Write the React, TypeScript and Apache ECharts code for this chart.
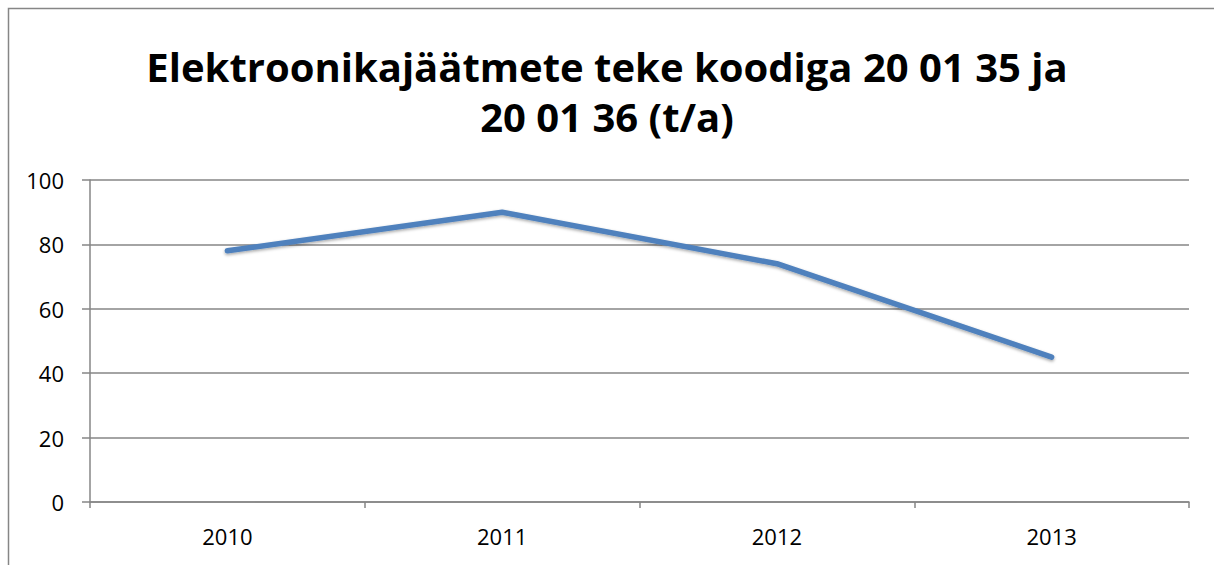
import React, { useEffect, useRef } from "react";
import * as echarts from "echarts";

const categories = ["2010", "2011", "2012", "2013"];
const values = [78, 90, 74, 45];
const titleLines = ["Elektroonikajäätmete teke koodiga 20 01 35 ja", "20 01 36 (t/a)"];

export default function App() {
  const ref = useRef<HTMLDivElement>(null);
  useEffect(() => {
    if (!ref.current) return;
    const chart = echarts.init(ref.current, null, { renderer: "svg" });
    chart.setOption({
      animation: false,
      backgroundColor: "#ffffff",
      title: {
        text: titleLines.join("\n"),
        left: "center",
        top: 36,
        textStyle: {
          fontFamily: "Open Sans",
          fontSize: 40,
          fontWeight: "bold",
          color: "#000000",
          lineHeight: 50,
        },
      },
      graphic: [
        {
          type: "rect",
          shape: { x: 8.5, y: 8.5, width: 1300, height: 700 },
          style: { fill: "none", stroke: "#868686", lineWidth: 1.5 },
          silent: true,
          z: -1,
        },
      ],
      grid: { left: 90, right: 25, top: 180, bottom: 63, containLabel: false },
      xAxis: {
        type: "category",
        data: categories,
        boundaryGap: true,
        axisLine: { show: true, lineStyle: { color: "#868686", width: 1.5 } },
        axisTick: { show: true, alignWithLabel: false, length: 6, lineStyle: { color: "#868686", width: 1.5 } },
        axisLabel: { fontFamily: "Open Sans", fontSize: 22, color: "#000000", margin: 23 },
      },
      yAxis: {
        type: "value",
        min: 0,
        max: 100,
        interval: 20,
        axisLine: { show: true, lineStyle: { color: "#868686", width: 1.5 } },
        axisTick: { show: true, length: 8, lineStyle: { color: "#868686", width: 1.5 } },
        splitLine: { show: true, lineStyle: { color: "#868686", width: 1.5 } },
        axisLabel: { fontFamily: "Open Sans", fontSize: 22, color: "#000000", margin: 26 },
      },
      series: [
        {
          type: "line",
          data: values,
          symbol: "none",
          lineStyle: {
            color: "#4F81BD",
            width: 5.5,
            cap: "round",
            join: "round",
            shadowColor: "rgba(0,0,0,0.35)",
            shadowBlur: 3,
            shadowOffsetY: 1.5,
          },
        },
      ],
    });
    return () => chart.dispose();
  }, []);
  return (
    <div
      ref={ref}
      style={{ position: "fixed", left: 0, top: 0, width: 1214, height: 565 }}
    />
  );
}
